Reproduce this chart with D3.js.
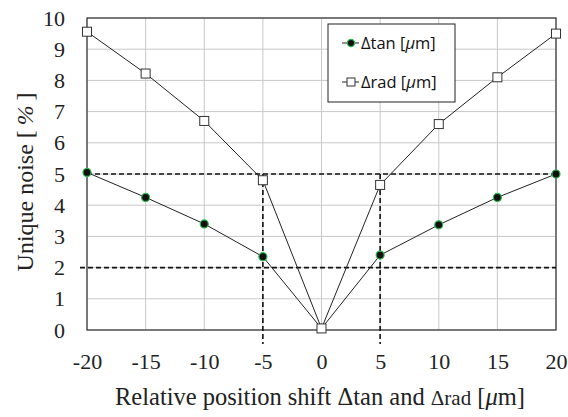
<!DOCTYPE html>
<html><head><meta charset="utf-8">
<script src="https://cdn.jsdelivr.net/npm/d3@7"></script>
<style>body{margin:0;background:#fff}</style>
</head><body>
<svg id="c" width="568" height="417"></svg>
<script>
const shifts = [-20,-15,-10,-5,0,5,10,15,20];
const tanNoise = [5.05,4.25,3.4,2.35,0.05,2.4,3.37,4.25,5.0];
const radNoise = [9.56,8.22,6.7,4.8,0.05,4.65,6.6,8.1,9.5];
const xTicks = [-20,-15,-10,-5,0,5,10,15,20];
const yTicks = [0,1,2,3,4,5,6,7,8,9,10];
const hRefs = [5,2];
const vRefs = [-5,5];

const svg = d3.select("#c");
const L=87,R=556,T=18,B=330;
const x = d3.scaleLinear().domain([-20,20]).range([L,R]);
const y = d3.scaleLinear().domain([0,10]).range([B,T]);
const serif = "'Liberation Serif','Times New Roman',serif";
const fmt = d => String(d);

// grid
svg.append("g").selectAll("line").data(yTicks).join("line")
  .attr("x1",L).attr("x2",R).attr("y1",d=>y(d)).attr("y2",d=>y(d))
  .attr("stroke","#c8c8c8").attr("stroke-width",1);
svg.append("g").selectAll("line").data(xTicks).join("line")
  .attr("y1",T).attr("y2",B).attr("x1",d=>x(d)).attr("x2",d=>x(d))
  .attr("stroke","#c8c8c8").attr("stroke-width",1);

// frame
svg.append("rect").attr("x",L).attr("y",T).attr("width",R-L).attr("height",B-T)
  .attr("fill","none").attr("stroke","#333").attr("stroke-width",1.2);

// axes (labels only)
const xa = svg.append("g").attr("transform",`translate(0,${B})`)
  .call(d3.axisBottom(x).tickValues(xTicks).tickSize(0).tickPadding(23).tickFormat(fmt));
xa.select(".domain").remove();
xa.selectAll("text").attr("font-family",serif).attr("font-size",22).attr("fill","#222");
const ya = svg.append("g").attr("transform",`translate(${L},0)`)
  .call(d3.axisLeft(y).tickValues(yTicks).tickSize(0).tickPadding(22).tickFormat(fmt));
ya.select(".domain").remove();
ya.selectAll("text").attr("font-family",serif).attr("font-size",22).attr("fill","#222");

// reference dashed lines
const dash = "5,3";
svg.append("line").attr("x1",x(-20)).attr("x2",x(20)).attr("y1",y(hRefs[0])).attr("y2",y(hRefs[0]))
  .attr("stroke","#111").attr("stroke-width",1.6).attr("stroke-dasharray",dash);
svg.append("line").attr("x1",L-7).attr("x2",x(20)).attr("y1",y(hRefs[1])).attr("y2",y(hRefs[1]))
  .attr("stroke","#111").attr("stroke-width",1.6).attr("stroke-dasharray",dash);
svg.append("g").selectAll("line").data(vRefs).join("line")
  .attr("x1",d=>x(d)).attr("x2",d=>x(d)).attr("y1",y(5)).attr("y2",B+14)
  .attr("stroke","#111").attr("stroke-width",1.6).attr("stroke-dasharray",dash);

// lines
const line = d3.line().x((d,i)=>x(shifts[i])).y(d=>y(d));
svg.append("path").attr("d",line(radNoise)).attr("fill","none").attr("stroke","#222").attr("stroke-width",1);
svg.append("path").attr("d",line(tanNoise)).attr("fill","none").attr("stroke","#222").attr("stroke-width",1);

// markers
svg.append("g").selectAll("circle").data(tanNoise).join("circle")
  .attr("cx",(d,i)=>x(shifts[i])).attr("cy",d=>y(d)).attr("r",4)
  .attr("fill","#111").attr("stroke","#2db84d").attr("stroke-width",1.2);
svg.append("g").selectAll("rect").data(radNoise).join("rect")
  .attr("x",(d,i)=>x(shifts[i])-4.5).attr("y",d=>y(d)-4.5).attr("width",9).attr("height",9)
  .attr("fill","#fff").attr("stroke","#333").attr("stroke-width",1);

// legend
const lg = svg.append("g");
lg.append("rect").attr("x",328).attr("y",24).attr("width",127).attr("height",78)
  .attr("fill","#fff").attr("stroke","#222").attr("stroke-width",1);
const sans = "'Open Sans','Liberation Sans',sans-serif";
lg.append("line").attr("x1",342).attr("x2",359).attr("y1",43).attr("y2",43).attr("stroke","#222");
lg.append("circle").attr("cx",351).attr("cy",43).attr("r",3.6).attr("fill","#111").attr("stroke","#2db84d").attr("stroke-width",1.2);
lg.append("line").attr("x1",342).attr("x2",359).attr("y1",82).attr("y2",82).attr("stroke","#222");
lg.append("rect").attr("x",347).attr("y",78).attr("width",8).attr("height",8).attr("fill","#fff").attr("stroke","#333");
const lt1 = lg.append("text").attr("x",361).attr("y",49).attr("font-family",sans).attr("font-size",16.5).attr("fill","#111");
lt1.append("tspan").text("Δtan [");
lt1.append("tspan").attr("font-style","italic").text("μ");
lt1.append("tspan").text("m]");
const lt2 = lg.append("text").attr("x",361).attr("y",88).attr("font-family",sans).attr("font-size",16.5).attr("fill","#111");
lt2.append("tspan").text("Δrad [");
lt2.append("tspan").attr("font-style","italic").text("μ");
lt2.append("tspan").text("m]");

// axis titles
const xt = svg.append("text").attr("x",320).attr("y",405).attr("text-anchor","middle")
  .attr("font-family",serif).attr("font-size",24.5).attr("fill","#222");
xt.append("tspan").text("Relative position shift Δtan and ");
xt.append("tspan").attr("font-size",21).text("Δrad");
xt.append("tspan").text(" [");
xt.append("tspan").attr("font-style","italic").text("μ");
xt.append("tspan").text("m]");

const yt = svg.append("text").attr("transform","translate(33,182) rotate(-90)").attr("text-anchor","middle")
  .attr("font-family",serif).attr("font-size",24).attr("fill","#222");
yt.append("tspan").text("Unique noise [\u2009");
yt.append("tspan").attr("font-style","italic").text("%");
yt.append("tspan").text("\u2009]");
</script>
</body></html>
